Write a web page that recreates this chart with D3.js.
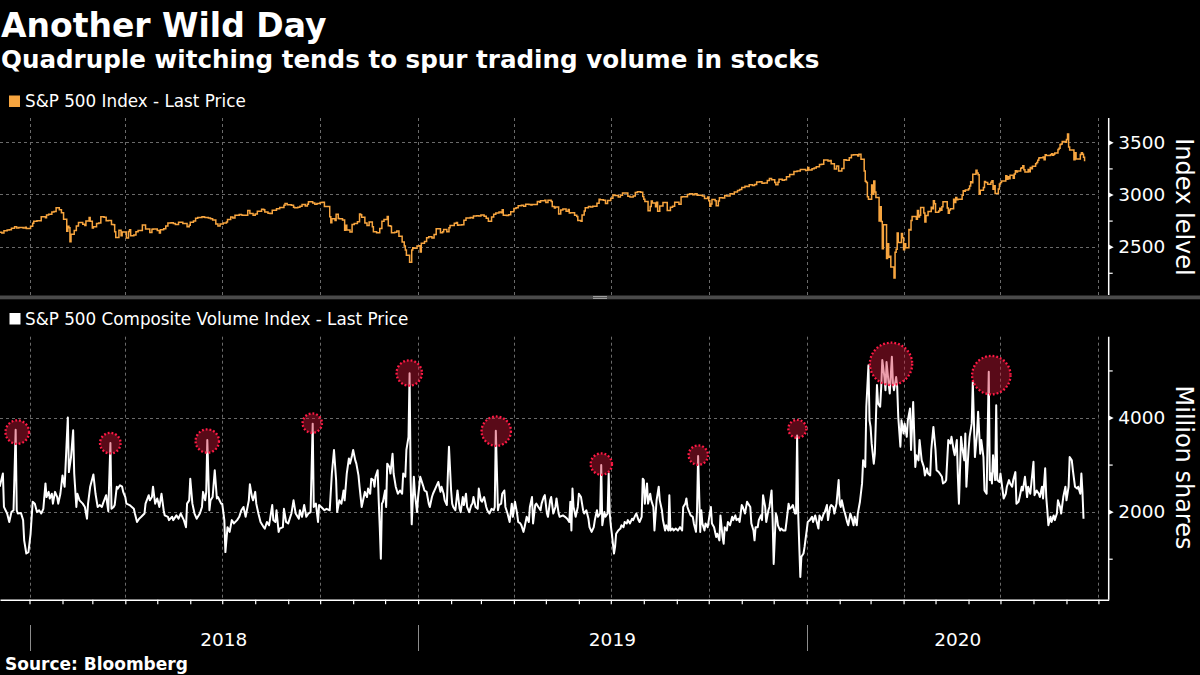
<!DOCTYPE html>
<html><head><meta charset="utf-8">
<script src="https://cdn.jsdelivr.net/npm/d3@7"></script>
<style>
html,body{margin:0;padding:0;background:#000;}
svg{display:block;}
text{font-family:"DejaVu Sans",sans-serif;fill:#fff;}
</style></head><body>
<svg id="chart" width="1200" height="675"></svg>
<script>
// ---------------- texts ----------------
const title = "Another Wild Day";
const subtitle = "Quadruple witching tends to spur trading volume in stocks";
const legendTop = "S&P 500 Index - Last Price";
const legendBottom = "S&P 500 Composite Volume Index - Last Price";
const axisTitleTop = "Index lelvel";
const axisTitleBottom = "Million shares";
const sourceText = "Source: Bloomberg";
const yearLabels = ["2018", "2019", "2020"];
const topTicks = [2500, 3000, 3500];
const topMinorTicks = [2250, 2750, 3250];
const bottomTicks = [2000, 4000];
const bottomMinorTicks = [1000, 3000, 5000];

// ---------------- S&P 500 index (date, close) ----------------
const spx = [
["2017-12-04",2639],["2017-12-06",2630],["2017-12-08",2652],["2017-12-11",2660],["2017-12-13",2663],["2017-12-15",2676],["2017-12-18",2690],["2017-12-20",2679],["2017-12-22",2683],["2017-12-26",2680],["2017-12-28",2687],["2017-12-29",2674],
["2018-01-02",2696],["2018-01-04",2724],["2018-01-05",2743],["2018-01-08",2748],["2018-01-10",2748],["2018-01-12",2786],["2018-01-16",2777],["2018-01-17",2803],["2018-01-19",2810],["2018-01-22",2833],["2018-01-24",2838],["2018-01-26",2873],["2018-01-29",2853],["2018-01-31",2824],
["2018-02-02",2762],["2018-02-05",2649],["2018-02-06",2695],["2018-02-07",2682],["2018-02-08",2548],["2018-02-09",2620],["2018-02-12",2656],["2018-02-14",2699],["2018-02-16",2732],["2018-02-20",2716],["2018-02-22",2703],["2018-02-23",2747],["2018-02-26",2780],["2018-02-27",2744],
["2018-03-01",2678],["2018-03-02",2691],["2018-03-05",2721],["2018-03-07",2727],["2018-03-09",2786],["2018-03-12",2783],["2018-03-14",2749],["2018-03-16",2752],["2018-03-19",2712],["2018-03-21",2711],["2018-03-22",2644],["2018-03-23",2588],["2018-03-26",2658],["2018-03-28",2605],["2018-03-29",2641],
["2018-04-02",2582],["2018-04-04",2645],["2018-04-05",2663],["2018-04-06",2604],["2018-04-09",2613],["2018-04-11",2642],["2018-04-13",2656],["2018-04-17",2707],["2018-04-18",2708],["2018-04-20",2670],["2018-04-24",2635],["2018-04-26",2667],["2018-04-27",2670],
["2018-05-01",2655],["2018-05-03",2630],["2018-05-04",2663],["2018-05-07",2672],["2018-05-09",2697],["2018-05-11",2728],["2018-05-14",2730],["2018-05-16",2722],["2018-05-18",2713],["2018-05-21",2733],["2018-05-23",2733],["2018-05-25",2721],["2018-05-29",2690],["2018-05-31",2705],
["2018-06-01",2735],["2018-06-04",2747],["2018-06-06",2772],["2018-06-08",2779],["2018-06-12",2787],["2018-06-14",2782],["2018-06-15",2780],["2018-06-18",2774],["2018-06-20",2767],["2018-06-22",2755],["2018-06-25",2718],["2018-06-27",2699],["2018-06-29",2718],
["2018-07-02",2727],["2018-07-05",2736],["2018-07-06",2760],["2018-07-09",2784],["2018-07-11",2774],["2018-07-13",2801],["2018-07-17",2809],["2018-07-19",2804],["2018-07-20",2802],["2018-07-25",2846],["2018-07-27",2819],["2018-07-30",2802],
["2018-08-01",2813],["2018-08-03",2840],["2018-08-07",2858],["2018-08-09",2853],["2018-08-10",2833],["2018-08-13",2821],["2018-08-15",2818],["2018-08-17",2850],["2018-08-21",2863],["2018-08-24",2875],["2018-08-28",2897],["2018-08-29",2914],["2018-08-31",2902],
["2018-09-04",2896],["2018-09-06",2878],["2018-09-07",2872],["2018-09-10",2877],["2018-09-12",2888],["2018-09-14",2905],["2018-09-17",2889],["2018-09-19",2907],["2018-09-20",2931],["2018-09-21",2930],["2018-09-24",2919],["2018-09-26",2906],["2018-09-28",2914],
["2018-10-01",2924],["2018-10-03",2926],["2018-10-05",2886],["2018-10-08",2884],["2018-10-10",2786],["2018-10-11",2729],["2018-10-12",2767],["2018-10-15",2750],["2018-10-16",2810],["2018-10-18",2769],["2018-10-19",2768],["2018-10-22",2756],["2018-10-24",2657],["2018-10-25",2706],["2018-10-26",2659],["2018-10-29",2641],["2018-10-31",2712],
["2018-11-02",2723],["2018-11-05",2738],["2018-11-07",2814],["2018-11-08",2807],["2018-11-09",2781],["2018-11-12",2726],["2018-11-14",2702],["2018-11-16",2736],["2018-11-19",2690],["2018-11-20",2642],["2018-11-23",2633],["2018-11-26",2674],["2018-11-28",2744],["2018-11-30",2760],
["2018-12-03",2790],["2018-12-04",2700],["2018-12-06",2696],["2018-12-07",2633],["2018-12-10",2638],["2018-12-12",2651],["2018-12-14",2600],["2018-12-17",2546],["2018-12-19",2507],["2018-12-20",2467],["2018-12-21",2417],["2018-12-24",2351],["2018-12-26",2468],["2018-12-27",2489],["2018-12-28",2486],["2018-12-31",2507],
["2019-01-02",2510],["2019-01-03",2448],["2019-01-04",2532],["2019-01-07",2550],["2019-01-09",2585],["2019-01-11",2596],["2019-01-14",2583],["2019-01-16",2617],["2019-01-18",2671],["2019-01-22",2633],["2019-01-24",2643],["2019-01-25",2665],["2019-01-28",2644],["2019-01-30",2681],["2019-01-31",2704],
["2019-02-04",2725],["2019-02-06",2731],["2019-02-07",2706],["2019-02-08",2708],["2019-02-11",2709],["2019-02-13",2754],["2019-02-15",2776],["2019-02-19",2780],["2019-02-21",2775],["2019-02-22",2793],["2019-02-25",2796],["2019-02-27",2793],
["2019-03-01",2804],["2019-03-04",2792],["2019-03-06",2772],["2019-03-08",2743],["2019-03-11",2784],["2019-03-13",2811],["2019-03-15",2822],["2019-03-18",2833],["2019-03-20",2824],["2019-03-21",2855],["2019-03-22",2801],["2019-03-25",2798],["2019-03-27",2805],["2019-03-29",2834],
["2019-04-01",2867],["2019-04-03",2873],["2019-04-05",2893],["2019-04-08",2896],["2019-04-10",2888],["2019-04-12",2907],["2019-04-15",2905],["2019-04-17",2900],["2019-04-18",2905],["2019-04-23",2934],["2019-04-25",2926],["2019-04-26",2940],["2019-04-30",2946],
["2019-05-01",2924],["2019-05-03",2946],["2019-05-06",2932],["2019-05-07",2884],["2019-05-09",2871],["2019-05-10",2881],["2019-05-13",2812],["2019-05-15",2851],["2019-05-17",2860],["2019-05-20",2840],["2019-05-22",2856],["2019-05-23",2822],["2019-05-24",2826],["2019-05-28",2802],["2019-05-30",2789],["2019-05-31",2752],
["2019-06-03",2744],["2019-06-04",2804],["2019-06-06",2843],["2019-06-07",2873],["2019-06-10",2886],["2019-06-12",2880],["2019-06-14",2887],["2019-06-18",2917],["2019-06-20",2954],["2019-06-21",2950],["2019-06-24",2945],["2019-06-26",2913],["2019-06-28",2942],
["2019-07-01",2964],["2019-07-03",2996],["2019-07-05",2990],["2019-07-08",2976],["2019-07-10",2993],["2019-07-12",3014],["2019-07-15",3014],["2019-07-17",2984],["2019-07-19",2977],["2019-07-22",2986],["2019-07-24",3020],["2019-07-26",3026],["2019-07-29",3021],["2019-07-31",2980],
["2019-08-01",2954],["2019-08-02",2932],["2019-08-05",2844],["2019-08-07",2884],["2019-08-08",2938],["2019-08-09",2919],["2019-08-12",2883],["2019-08-13",2926],["2019-08-14",2840],["2019-08-16",2889],["2019-08-19",2924],["2019-08-21",2924],["2019-08-23",2847],["2019-08-26",2878],["2019-08-28",2887],["2019-08-30",2926],
["2019-09-03",2906],["2019-09-05",2977],["2019-09-06",2979],["2019-09-09",2979],["2019-09-11",3001],["2019-09-13",3007],["2019-09-16",2998],["2019-09-18",3006],["2019-09-20",2992],["2019-09-23",2992],["2019-09-25",2985],["2019-09-27",2962],["2019-09-30",2977],
["2019-10-01",2940],["2019-10-02",2887],["2019-10-03",2910],["2019-10-04",2952],["2019-10-07",2939],["2019-10-08",2893],["2019-10-10",2938],["2019-10-11",2970],["2019-10-14",2967],["2019-10-16",2990],["2019-10-18",2986],["2019-10-21",3007],["2019-10-23",3004],["2019-10-25",3023],["2019-10-28",3039],["2019-10-30",3047],
["2019-11-01",3067],["2019-11-04",3078],["2019-11-06",3076],["2019-11-08",3093],["2019-11-11",3087],["2019-11-13",3095],["2019-11-15",3120],["2019-11-18",3122],["2019-11-20",3108],["2019-11-22",3110],["2019-11-25",3134],["2019-11-27",3154],["2019-11-29",3141],
["2019-12-02",3114],["2019-12-03",3093],["2019-12-05",3117],["2019-12-06",3146],["2019-12-09",3136],["2019-12-11",3142],["2019-12-13",3169],["2019-12-16",3192],["2019-12-18",3191],["2019-12-20",3221],["2019-12-23",3224],["2019-12-26",3240],["2019-12-27",3240],["2019-12-31",3231],
["2020-01-02",3258],["2020-01-03",3235],["2020-01-06",3246],["2020-01-08",3253],["2020-01-10",3265],["2020-01-13",3288],["2020-01-15",3289],["2020-01-17",3330],["2020-01-21",3321],["2020-01-23",3326],["2020-01-24",3295],["2020-01-27",3244],["2020-01-29",3273],["2020-01-31",3226],
["2020-02-03",3249],["2020-02-05",3334],["2020-02-07",3328],["2020-02-10",3352],["2020-02-12",3379],["2020-02-14",3380],["2020-02-18",3370],["2020-02-19",3386],["2020-02-21",3338],["2020-02-24",3226],["2020-02-25",3128],["2020-02-26",3116],["2020-02-27",2979],["2020-02-28",2954],
["2020-03-02",3090],["2020-03-03",3003],["2020-03-04",3130],["2020-03-05",3024],["2020-03-06",2972],["2020-03-09",2747],["2020-03-10",2882],["2020-03-11",2741],["2020-03-12",2481],["2020-03-13",2711],["2020-03-16",2386],["2020-03-17",2529],["2020-03-18",2398],["2020-03-19",2409],["2020-03-20",2305],["2020-03-23",2200],["2020-03-24",2447],["2020-03-25",2476],["2020-03-26",2630],["2020-03-27",2541],["2020-03-30",2627],["2020-03-31",2585],
["2020-04-01",2471],["2020-04-02",2527],["2020-04-03",2489],["2020-04-06",2664],["2020-04-07",2659],["2020-04-08",2750],["2020-04-09",2790],["2020-04-13",2762],["2020-04-14",2846],["2020-04-15",2784],["2020-04-16",2800],["2020-04-17",2875],["2020-04-20",2823],["2020-04-21",2737],["2020-04-22",2799],["2020-04-23",2798],["2020-04-24",2837],["2020-04-27",2878],["2020-04-28",2863],["2020-04-29",2940],["2020-04-30",2912],
["2020-05-01",2831],["2020-05-04",2843],["2020-05-05",2868],["2020-05-06",2848],["2020-05-07",2882],["2020-05-08",2930],["2020-05-11",2930],["2020-05-12",2870],["2020-05-13",2820],["2020-05-14",2852],["2020-05-15",2864],["2020-05-18",2954],["2020-05-19",2923],["2020-05-20",2972],["2020-05-21",2949],["2020-05-22",2955],["2020-05-26",2992],["2020-05-27",3036],["2020-05-28",3030],["2020-05-29",3044],
["2020-06-01",3056],["2020-06-02",3081],["2020-06-03",3122],["2020-06-04",3112],["2020-06-05",3194],["2020-06-08",3232],["2020-06-09",3207],["2020-06-10",3190],["2020-06-11",3002],["2020-06-12",3041],["2020-06-15",3067],["2020-06-16",3125],["2020-06-17",3114],["2020-06-18",3115],["2020-06-19",3098],["2020-06-22",3118],["2020-06-23",3131],["2020-06-24",3050],["2020-06-25",3084],["2020-06-26",3009],["2020-06-29",3053],["2020-06-30",3100],
["2020-07-01",3116],["2020-07-02",3130],["2020-07-06",3180],["2020-07-07",3145],["2020-07-08",3170],["2020-07-09",3152],["2020-07-10",3185],["2020-07-13",3155],["2020-07-14",3197],["2020-07-15",3227],["2020-07-16",3216],["2020-07-17",3225],["2020-07-20",3251],["2020-07-21",3257],["2020-07-22",3276],["2020-07-23",3236],["2020-07-24",3216],["2020-07-27",3239],["2020-07-28",3218],["2020-07-29",3258],["2020-07-30",3246],["2020-07-31",3271],
["2020-08-03",3295],["2020-08-04",3306],["2020-08-05",3328],["2020-08-06",3349],["2020-08-07",3351],["2020-08-10",3360],["2020-08-11",3333],["2020-08-12",3380],["2020-08-13",3373],["2020-08-14",3373],["2020-08-17",3382],["2020-08-18",3390],["2020-08-19",3375],["2020-08-20",3385],["2020-08-21",3397],["2020-08-24",3431],["2020-08-25",3443],["2020-08-26",3479],["2020-08-27",3484],["2020-08-28",3508],["2020-08-31",3500],
["2020-09-01",3527],["2020-09-02",3580],["2020-09-03",3455],["2020-09-04",3427],["2020-09-08",3332],["2020-09-09",3399],["2020-09-10",3339],["2020-09-11",3341],["2020-09-14",3384],["2020-09-15",3401],["2020-09-16",3385],["2020-09-17",3357],["2020-09-18",3319]
];

// ---------------- S&P 500 composite volume: [days since 2018-01-01, million shares] ----------------
const volume = [
[-28,2530],[-25,2810],[-24,2100],[-21,1960],[-19,1780],[-17,1990],[-15,2030],[-13,3740],[-12,2030],[-11,1960],[-8,1970],[-6,1820],[-5,1390],[-3,1110],[-1,1140],[1,1530],[3,2210],[5,2170],[7,1990],[9,2030],[11,1960],[13,2060],[15,2600],[16,2310],[18,2420],[19,2280],[21,2380],[22,2170],[24,2420],[26,2310],[27,2170],[29,2380],[31,2770],[33,2530],[35,3520],[36,4000],[37,2840],[39,3160],[41,3730],[42,2810],[44,2100],[45,2380],[47,2240],[50,2170],[52,2100],[54,1850],[55,2170],[57,2530],[60,2790],[62,2380],[64,2100],[66,2140],[68,2100],[69,2170],[72,2350],[73,2170],[74,2010],[76,3460],[77,2060],[79,2100],[80,2140],[82,2530],[83,2490],[85,2560],[87,2530],[88,2420],[90,2310],[91,2170],[94,2140],[98,2060],[99,1960],[101,1780],[103,1850],[105,1890],[108,1960],[109,2170],[112,2350],[113,2240],[115,2310],[116,2530],[118,2170],[120,2280],[122,2100],[124,2380],[126,2030],[127,1920],[130,1890],[131,1820],[134,1890],[135,1820],[138,1920],[140,1850],[142,1960],[145,1820],[147,1670],[148,2170],[150,2240],[151,2700],[153,2170],[155,1960],[157,1850],[160,1960],[162,2100],[163,2420],[165,2240],[166,2420],[167,3520],[169,2030],[170,2240],[172,2310],[174,2880],[176,2280],[177,2310],[180,2170],[181,2170],[183,1820],[184,1140],[186,1670],[188,1570],[190,1820],[192,1750],[195,1820],[197,1890],[199,2030],[201,2100],[203,1890],[206,2240],[207,2580],[209,2310],[210,2240],[212,2420],[213,2170],[215,1960],[217,1780],[220,1670],[221,1640],[223,1780],[225,1710],[228,2140],[229,1820],[231,1780],[232,2030],[234,1570],[235,1640],[238,1670],[239,2060],[241,1780],[243,1750],[246,1960],[248,2240],[250,1960],[253,1850],[254,2030],[256,1890],[258,2140],[260,1890],[262,1960],[264,1990],[266,3870],[267,2100],[269,2170],[271,1780],[272,2140],[274,2100],[277,2030],[279,2060],[282,2030],[284,2810],[286,3310],[288,2670],[289,1990],[291,2240],[293,2170],[295,2450],[296,2240],[298,2810],[300,3130],[301,3020],[303,3200],[304,3310],[306,3090],[307,3020],[309,2770],[310,2530],[312,2100],[314,2310],[315,2420],[317,2310],[318,2490],
[320,2380],[321,2700],[323,2670],[324,2530],[325,2740],[327,2880],[328,2240],[329,1670],[330,1000],[331,2170],[332,2210],[334,2450],[335,2100],[336,3020],[338,2950],[339,2810],[341,3230],[342,2810],[344,2530],[346,2380],[348,2450],[350,2380],[351,2810],[353,2740],[354,3310],[356,3590],[357,4940],[358,2670],[359,1730],[361,2740],[362,2380],[364,1990],[365,2310],[367,2740],[368,2670],[370,2530],[371,2450],[373,2420],[375,2170],[376,2100],[378,2310],[379,2380],[382,2530],[384,2630],[386,2420],[387,2530],[389,2380],[390,2240],[392,2140],[393,2810],[394,3380],[396,2450],[397,2170],[398,2100],[400,2030],[401,2240],[402,2450],[404,2060],[405,1990],[407,2310],[408,2140],[410,2380],[411,2100],[413,1990],[415,2140],[416,2170],[417,2310],[419,2100],[421,2060],[422,2490],[424,2240],[425,2210],[427,2310],[429,2100],[430,2030],[432,1960],[434,2060],[436,2030],[437,2100],[438,3720],[440,2030],[441,2140],[443,2170],[444,2380],[446,2450],[447,2100],[449,1960],[451,1780],[453,2170],[454,1890],[456,2210],[458,1960],[459,1780],[461,1750],[462,1710],[464,1570],[465,1670],[467,1890],[469,1780],[470,2100],[472,2310],[473,1750],[475,2140],[476,2170],[478,2100],[480,2030],[481,2170],[483,2310],[484,2350],[486,1960],[487,1890],[489,2240],[490,2310],[492,1960],[494,2100],[495,2280],[497,1960],[498,1890],[501,1920],[503,1890],[505,1850],[507,1780],[508,2210],[509,1600],[510,2490],[511,2100],[513,1890],[515,2100],[516,2380],[518,2310],[520,2030],[521,1960],[523,2030],[525,1850],[526,1670],[528,1570],[530,1670],[531,1820],[533,2030],[534,1890],[536,1960],[537,2990],[538,1710],[540,1990],[541,1890],[543,1960],[544,2810],[545,1960],[546,1710],[547,1530],[549,1110],[550,1250],[551,1530],[553,1600],[555,1640],[556,1710],[558,1670],[559,1780],[561,1750],[562,1820],[564,1750],[566,1850],[567,1820],[569,1920],[570,1960],[572,1820],[573,1780],[575,1890],[576,2700],[577,2670],[578,2170],[580,2600],[581,2170],[583,2380],[584,2240],[586,2100],[587,1600],[589,2240],[591,2530],[592,2240],[594,2030],[595,1820],[597,1600],[598,1710],[600,1600],[601,2350],[602,1600],[604,1640],[605,1600],[607,1640],[609,1600],[611,1670],[613,1600],[614,2100],[616,2170],[617,2280],[618,2100],[619,2030],[621,1920],[623,1890],[624,1750],[626,1570],[627,2030],[628,3180],[630,1570],[631,2030],[632,1750],[634,1600],[635,1750],[637,1670],[639,1960],[640,2100],[641,1750],[643,1670],[645,1460],[646,1530],[648,1390],[649,1920],[651,1460],[652,1320],[653,1670],[655,1600],[656,1780],[658,1710],[660,1890],[661,1820],[663,1920],[664,1820],[666,1850],
[667,1780],[669,2140],[670,2100],[672,1960],[674,2210],[675,2170],[677,2100],[678,1750],[680,1600],[681,1390],[682,1670],[684,1670],[685,1820],[687,1920],[688,1820],[689,2350],[691,2100],[692,1780],[694,2030],[695,2100],[697,2450],[698,1820],[699,890],[701,1960],[702,1890],[703,1710],[705,1600],[706,1640],[708,1600],[710,1600],[711,1780],[713,2170],[714,2060],[716,2100],[717,2140],[719,1960],[720,1960],[721,3620],[722,1960],[724,610],[725,1040],[727,1110],[728,1250],[730,1600],[731,1780],[733,1820],[735,1890],[736,1780],[738,1920],[739,1820],[741,1640],[742,1920],[744,1820],[746,1960],[747,1990],[749,2140],[750,1820],[752,2100],[753,2140],[755,2100],[756,1960],[758,2170],[760,2670],[761,2170],[762,2100],[763,2240],[765,2030],[766,1960],[768,1780],[769,1710],[771,1960],[772,1890],[774,1710],[775,1890],[777,1710],[778,1960],[780,2210],[782,2600],[783,3090],[785,2950],[786,4230],[788,5110],[789,3940],[790,3800],[791,3450],[793,3020],[794,3230],[796,4690],[797,4300],[799,4230],[800,4650],[801,5220],[803,4860],[804,4580],[805,5180],[807,4720],[808,4510],[810,5290],[811,4720],[812,4580],[814,4860],[815,4650],[816,4010],[818,3380],[819,3940],[821,3660],[822,3870],[824,3590],[825,3940],[827,4190],[828,3310],[830,4330],[832,2950],[833,3200],[835,3090],[836,3520],[838,3090],[840,2950],[841,2770],[843,2920],[844,2810],[846,2770],[847,3310],[849,3800],[851,3310],[852,2880],[854,2840],[855,2810],[857,2740],[858,2600],[860,2630],[861,2670],[863,3520],[865,3450],[866,3590],[868,3310],[869,3200],[871,3520],[872,2740],[873,2170],[875,3590],[876,3380],[878,3090],[879,3660],[880,2530],[882,3310],[883,3590],[885,3870],[886,4760],[888,3160],[890,3660],[891,4120],[893,3230],[894,3520],[896,3160],[897,2450],[899,2380],[901,4970],[902,2670],[903,2810],[904,2600],[905,3200],[907,2670],[908,4260],[909,2670],[911,2630],[912,2810],[914,2450],[915,2280],[917,2380],[918,2530],[920,2670],[921,2600],[923,2530],[924,2670],[926,2840],[927,2170],[929,2210],[930,2310],[932,2530],[933,2450],[935,2740],[937,2310],[938,2530],[940,2380],[941,2600],[943,3060],[944,2350],[946,2450],[948,2380],[949,2310],[951,2530],[952,2280],[954,2920],[955,2310],[956,2030],[957,1710],[959,1890],[960,1780],[962,1920],[963,1820],[965,1960],[966,2240],[968,2100],[969,1960],[971,2310],[973,2530],[974,2240],[976,2530],[977,3160],[979,3090],[980,2880],[982,2530],[984,2490],[985,2530],[987,2380],[988,2810],[989,2420],[990,1850]
];

// ---------------- quadruple-witching highlights: [days since 2018-01-01, million shares, emphasis] ----------------
const witching = [
[-11.5,3690,1.39],[75.9,3455,1.06],[167.0,3500,1.37],[265.6,3880,0.94],[356.7,4945,1.61],[438.4,3710,2.16],
[537.1,3010,1.14],[628.2,3200,0.94],[721.2,3760,0.81],[809.2,5140,4.49],[903.4,4900,3.69]
];

// ---------------- drawing ----------------
const svg = d3.select("#chart");
svg.append("rect").attr("width", 1200).attr("height", 675).attr("fill", "#000");

const parse = d3.utcParse("%Y-%m-%d");
const base = Date.UTC(2018, 0, 1);
const fromDay = d => new Date(base + d * 864e5);

const AX = 1108.7;               // right axis position
const x0 = d3.scaleUtc()
  .domain([new Date(Date.UTC(2018,0,1)), new Date(Date.UTC(2020,0,1))])
  .range([29.5, 806.7]);
const x = d3.scaleUtc().domain([x0.invert(0), x0.invert(AX)]).range([0, AX]);

const topP = {y0: 118, y1: 295};
const botP = {y0: 336.7, y1: 599.7};
const yTop = d3.scaleLinear().domain([2037, 3733]).range([topP.y1, topP.y0]);
const yBot = d3.scaleLinear().domain([129, 5717]).range([botP.y1, botP.y0]);

const gridColor = "#6a6a6a";
const quarters = d3.utcMonth.every(3).range(x.domain()[0], x.domain()[1]);
const months = d3.utcMonth.range(x.domain()[0], x.domain()[1]);

function grid(panel, yScale, values) {
  const g = svg.append("g");
  g.selectAll("line.v").data(quarters).join("line")
    .attr("x1", d => Math.round(x(d)) + 0.5).attr("x2", d => Math.round(x(d)) + 0.5)
    .attr("y1", panel.y0).attr("y2", panel.y1)
    .attr("stroke", gridColor).attr("stroke-width", 1).attr("stroke-dasharray", "3,3");
  g.selectAll("line.h").data(values).join("line")
    .attr("x1", 0).attr("x2", x(quarters[quarters.length - 1]))
    .attr("y1", d => Math.round(yScale(d)) + 0.5).attr("y2", d => Math.round(yScale(d)) + 0.5)
    .attr("stroke", gridColor).attr("stroke-width", 1).attr("stroke-dasharray", "3,3");
}
grid(topP, yTop, topTicks);
grid(botP, yBot, bottomTicks);

// right axes
function rightAxis(yScale, major, minor, panel) {
  const gMinor = svg.append("g").attr("transform", `translate(${AX},0)`)
    .call(d3.axisRight(yScale).tickValues(minor).tickSize(4).tickFormat(""));
  gMinor.select(".domain").remove();
  gMinor.selectAll(".tick line").attr("stroke", "#fff").attr("stroke-width", 1.2);
  const gMajor = svg.append("g").attr("transform", `translate(${AX},0)`)
    .call(d3.axisRight(yScale).tickValues(major).tickSize(0).tickPadding(9.5).tickFormat(d3.format("d")));
  gMajor.select(".domain").remove();
  gMajor.selectAll(".tick text").attr("fill", "#fff").style("font-size", "18.5px")
    .style("font-family", "'DejaVu Sans', sans-serif");
  gMajor.selectAll(".tick").append("path").attr("d", "M0,-2.6L5,0L0,2.6Z").attr("fill", "#fff");
  svg.append("line").attr("x1", AX).attr("x2", AX).attr("y1", panel.y0).attr("y2", panel.y1)
    .attr("stroke", "#fff").attr("stroke-width", 1.5);
}
rightAxis(yTop, topTicks, topMinorTicks, topP);
rightAxis(yBot, bottomTicks, bottomMinorTicks, botP);

// bottom time axis (month ticks)
const gx = svg.append("g").attr("transform", `translate(0,${botP.y1})`)
  .call(d3.axisBottom(x).tickValues(months).tickSize(4.5).tickFormat("").tickSizeOuter(0));
gx.select(".domain").attr("stroke", "#fff").attr("stroke-width", 1.5);
gx.selectAll(".tick line").attr("stroke", "#fff").attr("stroke-width", 1.2);

// year separators and labels
const years = yearLabels.map(y => new Date(Date.UTC(+y, 0, 1)));
years.forEach((d, i) => {
  const xs = x(d);
  const xe = i < years.length - 1 ? x(years[i + 1]) : AX;
  svg.append("line").attr("x1", Math.round(xs) + 0.5).attr("x2", Math.round(xs) + 0.5)
    .attr("y1", 625).attr("y2", 651).attr("stroke", "#8c8c8c").attr("stroke-width", 1);
  svg.append("text").attr("x", (Math.max(0, xs) + xe) / 2).attr("y", 646)
    .attr("text-anchor", "middle").style("font-size", "18.5px").text(yearLabels[i]);
});

// S&P 500 line (step)
const spxData = spx.map(d => ({date: parse(d[0]), value: d[1]}));
svg.append("path").datum(spxData)
  .attr("d", d3.line().curve(d3.curveStepAfter).x(d => x(d.date)).y(d => yTop(d.value)))
  .attr("fill", "none").attr("stroke", "#f7a53f").attr("stroke-width", 1.5);

// panel separator
svg.append("rect").attr("x", 0).attr("y", 295.5).attr("width", 1200).attr("height", 3.8).attr("fill", "#4a4a4a");
[296.6, 298.4].forEach(yy => svg.append("line").attr("x1", 593).attr("x2", 607)
  .attr("y1", yy).attr("y2", yy).attr("stroke", "#b0b0b0").attr("stroke-width", 0.9));

// volume line
const volData = volume.map(d => ({date: fromDay(d[0]), value: d[1]}));
svg.append("path").datum(volData)
  .attr("d", d3.line().x(d => x(d.date)).y(d => yBot(d.value)))
  .attr("fill", "none").attr("stroke", "#fff").attr("stroke-width", 2).attr("stroke-linejoin", "round");

// witching circles
const r = d3.scaleSqrt().domain([0, 1]).range([0, 10]);
svg.append("g").selectAll("circle").data(witching).join("circle")
  .attr("cx", d => x(fromDay(d[0]))).attr("cy", d => yBot(d[1])).attr("r", d => r(d[2]))
  .attr("fill", "rgba(212,24,58,0.42)").attr("stroke", "#ff1a45").attr("stroke-width", 2.3)
  .attr("stroke-dasharray", "1.8,2");

// titles
svg.append("text").attr("x", 1).attr("y", 36.5).style("font-size", "33px").style("font-weight", "bold").text(title);
svg.append("text").attr("x", 1).attr("y", 67.5).style("font-size", "24.6px").style("font-weight", "bold").text(subtitle);

// legends
svg.append("rect").attr("x", 9).attr("y", 95.5).attr("width", 11).attr("height", 11.5).attr("fill", "#f7a53f");
svg.append("text").attr("x", 25).attr("y", 107.3).style("font-size", "16.8px").text(legendTop);
svg.append("rect").attr("x", 9.5).attr("y", 313).attr("width", 11).attr("height", 11.5).attr("fill", "#fff");
svg.append("text").attr("x", 25).attr("y", 325).style("font-size", "16.8px").text(legendBottom);

// axis titles (rotated)
svg.append("text").attr("transform", "translate(1176,207) rotate(90)").attr("text-anchor", "middle")
  .style("font-size", "24px").text(axisTitleTop);
svg.append("text").attr("transform", "translate(1176,467.5) rotate(90)").attr("text-anchor", "middle")
  .style("font-size", "24px").text(axisTitleBottom);

// source
svg.append("text").attr("x", 5).attr("y", 670).style("font-size", "17px").style("font-weight", "bold").text(sourceText);
</script>
</body></html>
